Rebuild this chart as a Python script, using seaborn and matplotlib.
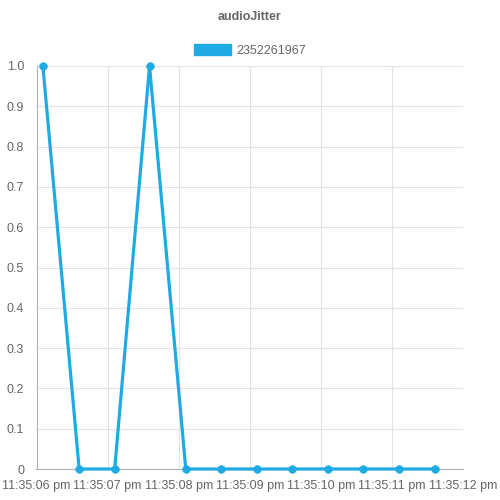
import matplotlib
matplotlib.use("Agg")
import matplotlib.pyplot as plt
import seaborn as sns
import pandas as pd
from matplotlib.patches import Patch

title = "audioJitter"
series_name = "2352261967"
# seconds after 11:35:00 pm
seconds = [6.09, 6.60, 7.10, 7.59, 8.10, 8.60, 9.10, 9.60, 10.10, 10.60, 11.10, 11.60]
values = [1, 0, 0, 1, 0, 0, 0, 0, 0, 0, 0, 0]
tick_seconds = [6, 7, 8, 9, 10, 11, 12]
tick_labels = ["11:35:06 pm", "11:35:07 pm", "11:35:08 pm", "11:35:09 pm",
               "11:35:10 pm", "11:35:11 pm", "11:35:12 pm"]
y_ticks = [0, 0.1, 0.2, 0.3, 0.4, 0.5, 0.6, 0.7, 0.8, 0.9, 1.0]
y_labels = ["0", "0.1", "0.2", "0.3", "0.4", "0.5", "0.6", "0.7", "0.8", "0.9", "1.0"]

sns.set_style("white")
plt.rcParams['font.family'] = ['Liberation Sans', 'DejaVu Sans']

color = "#1FAAE3"
df = pd.DataFrame({"t": seconds, "v": values})

fig = plt.figure(figsize=(5, 5), dpi=100)
ax = fig.add_axes([0.073, 0.062, 0.853, 0.806])
sns.lineplot(data=df, x="t", y="v", ax=ax, color=color, linewidth=2.3,
             marker="o", markersize=5.5, legend=False)
for ln in ax.get_lines():
    ln.set_clip_on(False)
    ln.set_markeredgecolor(color)
    ln.set_markerfacecolor(color)
    ln.set_markeredgewidth(0.5)
    ln.set_zorder(3)

ax.set_xlim(tick_seconds[0], tick_seconds[-1])
ax.set_ylim(0, 1.0)
ax.set_xticks(tick_seconds)
ax.set_xticklabels(tick_labels)
ax.set_yticks(y_ticks)
ax.set_yticklabels(y_labels)
ax.set_xlabel("")
ax.set_ylabel("")
ax.grid(True, color="#e3e3e3", linewidth=0.8)
ax.set_axisbelow(True)
for s in ["top", "right"]:
    ax.spines[s].set_visible(False)
ax.spines["left"].set_color("#b0b0b0")
ax.spines["bottom"].set_color("#b0b0b0")
ax.spines["left"].set_linewidth(0.8)
ax.spines["bottom"].set_linewidth(0.8)
ax.tick_params(axis="both", length=6, color="#dddddd", width=0.8,
               labelcolor="#666666", labelsize=9, pad=2)
ax.tick_params(axis="y", pad=3)

fig.text(0.5, 0.966, title, ha="center", va="center", fontsize=9,
         fontweight="bold", color="#666666")
fig.legend(handles=[Patch(facecolor=color, edgecolor=color, label=series_name)],
           loc="center", bbox_to_anchor=(0.5, 0.899), frameon=False,
           fontsize=9, labelcolor="#666666", handlelength=3.0, handleheight=0.9,
           handletextpad=0.4)

fig.savefig("out.png", dpi=100)
